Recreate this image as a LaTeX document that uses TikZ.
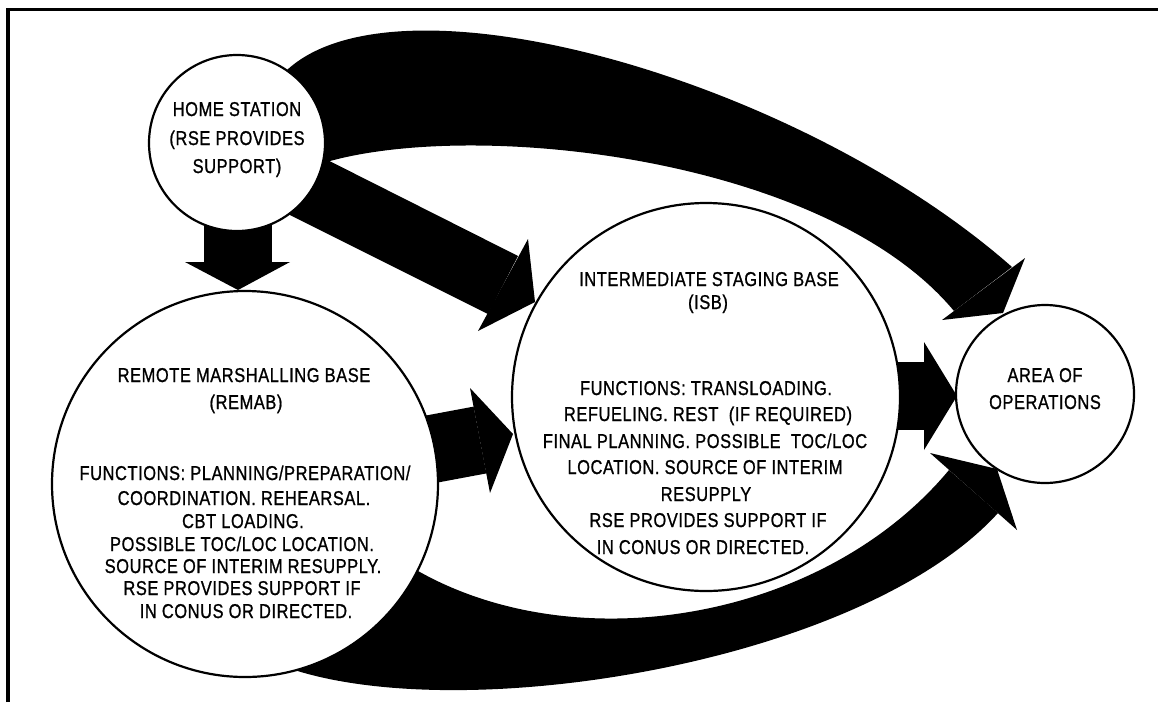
\documentclass[tikz,border=0pt]{standalone}
\usepackage{fontspec}
\setmainfont{Liberation Sans}[FakeStretch=0.82,LetterSpace=3,FakeBold=1]
\newcommand{\lbl}[4]{\node[txt] (#1) at (#2,#3) {#4};}
\begin{document}
\begin{tikzpicture}[x=1pt,y=-1pt,
  stn/.style={circle, draw=black, line width=2.2pt, fill=white, inner sep=0pt},
  txt/.style={font=\fontsize{20}{23}\selectfont, inner sep=0pt, anchor=base},
  blk/.style={fill=black, draw=none}]
\useasboundingbox (0,0) rectangle (1158,702);
% frame corner
\draw[line width=3.5pt] (8,702) -- (8,9.5) -- (1158,9.5);
% centres
\coordinate (homeC) at (237,143);
\coordinate (remabC) at (245,484);
\coordinate (isbC) at (706,397);
\coordinate (aoC) at (1045,394);
% ---- shafts (drawn first, starts hidden by circles)
% home -> remab
\fill[blk] (203.5,143) rectangle (271.5,262);
% home -> isb
\fill[blk] (258,125) -- (518,256) -- (488,314) -- (226,183) -- cycle;
% remab -> isb
\fill[blk] (238.6,450.6) -- (473.6,406.6) -- (486.4,473.4) -- (251.4,517.4) -- cycle;
% isb -> area
\fill[blk] (706,362) rectangle (924,430);
% home -> area (top arc)
\fill[blk] (287,70) .. controls (400,-34) and (800,80) .. (1012,267)
   -- (954,311) .. controls (826,157) and (473,118) .. (323,163) -- (homeC) -- cycle;
% remab -> area (bottom arc)
\fill[blk] (280,665) .. controls (450,730) and (860,665) .. (998,513)
   -- (949,470) .. controls (820,625) and (560,665) .. (400,560) -- cycle;
% ---- stations
\node[stn, minimum size=176pt] (home) at (homeC) {};
\node[stn, minimum size=386pt] (remab) at (remabC) {};
\node[stn, minimum size=388pt] (isb) at (isbC) {};
\node[stn, minimum size=178pt] (ao) at (aoC) {};
% ---- arrow heads
\fill[blk] (185,262) -- (290,262) -- (238,290) -- cycle;
\fill[blk] (478,331) -- (528,239) -- (535,302) -- cycle;
\fill[blk] (470,388) -- (490,493) -- (513,434) -- cycle;
\fill[blk] (924,342) -- (924,450) -- (957,396) -- cycle;
\fill[blk] (1025,258) -- (1003,313) -- (942,320) -- cycle;
\fill[blk] (930,453) -- (997,469) -- (1017,530) -- cycle;
% ---- texts
\lbl{h1}{237}{116}{HOME STATION}
\lbl{h2}{237}{145}{(RSE PROVIDES}
\lbl{h3}{237}{173}{SUPPORT)}
\lbl{a1}{1045}{382}{AREA OF}
\lbl{a2}{1045}{409}{OPERATIONS}
\lbl{r1}{244}{382}{REMOTE MARSHALLING BASE}
\lbl{r2}{246}{409}{(REMAB)}
\lbl{r3}{245}{480}{FUNCTIONS: PLANNING/PREPARATION/}
\lbl{r4}{244}{505}{COORDINATION. REHEARSAL.}
\lbl{r5}{243}{528}{CBT LOADING.}
\lbl{r6}{242}{551}{POSSIBLE TOC/LOC LOCATION.}
\lbl{r7}{243}{573}{SOURCE OF INTERIM RESUPPLY.}
\lbl{r8}{242}{595}{RSE PROVIDES SUPPORT IF}
\lbl{r9}{246}{618}{IN CONUS OR DIRECTED.}
\lbl{i1}{709}{286}{INTERMEDIATE STAGING BASE}
\lbl{i2}{708}{309}{(ISB)}
\lbl{i3}{706}{395}{FUNCTIONS: TRANSLOADING.}
\lbl{i4}{708}{421}{REFUELING. REST\ \ (IF REQUIRED)}
\lbl{i5}{705}{448}{FINAL PLANNING. POSSIBLE\ \ TOC/LOC}
\lbl{i6}{705}{474}{LOCATION. SOURCE OF INTERIM}
\lbl{i7}{706}{501}{RESUPPLY}
\lbl{i8}{708}{527}{RSE PROVIDES SUPPORT IF}
\lbl{i9}{703}{554}{IN CONUS OR DIRECTED.}
\end{tikzpicture}
\end{document}
